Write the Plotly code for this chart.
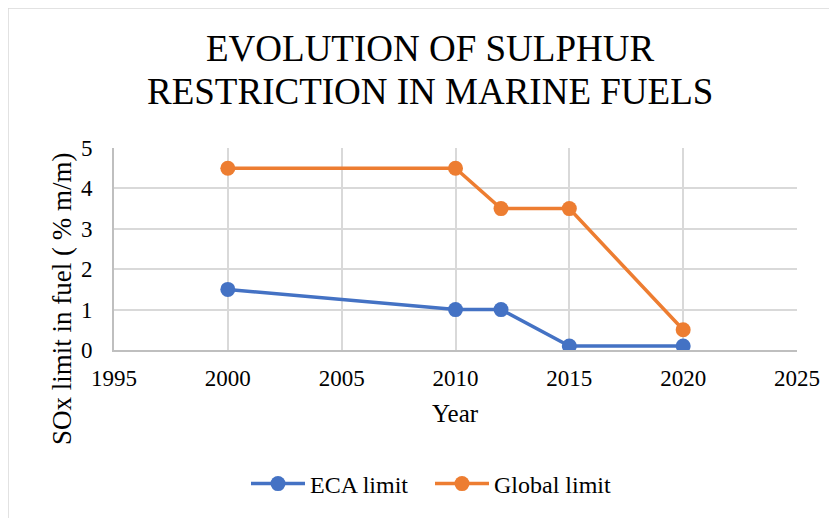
import plotly.graph_objects as go

years = [2000, 2010, 2012, 2015, 2020]
eca_limit = [1.5, 1.0, 1.0, 0.1, 0.1]
global_limit = [4.5, 4.5, 3.5, 3.5, 0.5]
x_ticks = [1995, 2000, 2005, 2010, 2015, 2020, 2025]
y_ticks = [0, 1, 2, 3, 4, 5]
title_lines = ["EVOLUTION OF SULPHUR", "RESTRICTION IN MARINE FUELS"]

FONT = "Liberation Serif"
# page has an 8px body margin: figure drawn at screen (8, 8)
OFF = 8
W, H = 837 - OFF, 518 - OFF
SL, SR, ST, SB = 114, 797, 148, 350  # plot area in screen px
L, T = SL - OFF, ST - OFF
R = W - L - (SR - SL)
B = H - T - (SB - ST)
pw, ph = SR - SL, SB - ST


def px(sx):
    return (sx - SL) / pw


def py(sy):
    return (SB - sy) / ph


fig = go.Figure()
fig.add_trace(go.Scatter(x=years, y=eca_limit, name="ECA limit", mode="lines+markers",
                         line=dict(color="#4472C4", width=3.5), marker=dict(size=15, color="#4472C4")))
fig.add_trace(go.Scatter(x=years, y=global_limit, name="Global limit", mode="lines+markers",
                         line=dict(color="#ED7D31", width=3.5), marker=dict(size=15, color="#ED7D31")))

annotations = [
    dict(text=title_lines[0], xref="paper", yref="paper", x=px(430), y=py(48),
         xanchor="center", yanchor="middle", showarrow=False,
         font=dict(size=37, family=FONT, color="black")),
    dict(text=title_lines[1], xref="paper", yref="paper", x=px(430), y=py(91),
         xanchor="center", yanchor="middle", showarrow=False,
         font=dict(size=37, family=FONT, color="black")),
    dict(text="SOx limit in fuel ( % m/m)", xref="paper", yref="paper", x=px(62), y=py(299),
         xanchor="center", yanchor="middle", textangle=-90, showarrow=False,
         font=dict(size=27, family=FONT, color="black")),
    dict(text="Year", xref="paper", yref="paper", x=px(455), y=py(413),
         xanchor="center", yanchor="middle", showarrow=False,
         font=dict(size=25, family=FONT, color="black")),
]

fig.update_layout(
    width=W, height=H,
    margin=dict(l=L, r=R, t=T, b=B),
    paper_bgcolor="white", plot_bgcolor="white",
    font=dict(family=FONT, color="black", size=23),
    showlegend=True,
    legend=dict(orientation="h", x=px(246), xanchor="left", y=py(484), yanchor="middle",
                font=dict(size=24, family=FONT, color="black"), itemwidth=54,
                entrywidth=115, entrywidthmode="pixels"),
    xaxis=dict(range=[1995, 2025], tickvals=x_ticks, showgrid=True, gridcolor="#d9d9d9", gridwidth=1.5,
               showline=True, linecolor="#bfbfbf", linewidth=2, zeroline=False,
               tickfont=dict(size=23, family=FONT), ticks="", ticklabelstandoff=6),
    yaxis=dict(range=[0, 5], tickvals=y_ticks, showgrid=True, gridcolor="#d9d9d9", gridwidth=1.5,
               showline=True, linecolor="#bfbfbf", linewidth=2, zeroline=False,
               tickfont=dict(size=23, family=FONT), ticks="", ticklabelstandoff=15),
    shapes=[
        dict(type="line", xref="paper", yref="paper", x0=px(8), x1=px(900), y0=py(8), y1=py(8),
             line=dict(color="#d9d9d9", width=1.5)),
        dict(type="line", xref="paper", yref="paper", x0=px(8), x1=px(8), y0=py(8), y1=py(600),
             line=dict(color="#d9d9d9", width=1.5)),
    ],
    annotations=annotations,
)

fig.write_html("out.html")
